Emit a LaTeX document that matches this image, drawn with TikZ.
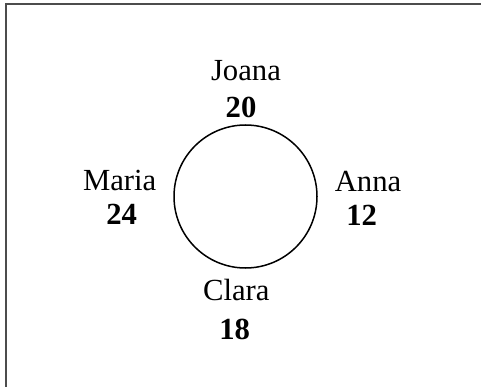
\documentclass[tikz,border=0pt]{standalone}
\usepackage{fontspec}
\setmainfont{Liberation Serif}
\tikzset{
  lbl/.style={anchor=base, inner sep=0pt, font=\fontsize{30.7}{36}\selectfont},
  num/.style={anchor=base, inner sep=0pt, font=\fontsize{30.7}{36}\selectfont\bfseries},
  frameline/.style={draw=black!70, line width=1.6pt},
  ring/.style={circle, draw=black, line width=1.5pt, minimum size=143pt, inner sep=0pt}
}
\begin{document}
\begin{tikzpicture}[x=1pt, y=-1pt]
\useasboundingbox (0,0) rectangle (481,387);
\coordinate (fbl) at (5.8,387);
\coordinate (ftl) at (5.8,4);
\coordinate (ftr) at (481,4);
\draw[frameline] (fbl) -- (ftl) -- (ftr);
\node[ring] (c) at (245.5,196.5) {};
\node[lbl] (joana) at (246,81) {Joana};
\node[num] (n20) at (241,118) {20};
\node[lbl] (maria) at (119.7,190.7) {Maria};
\node[num] (n24) at (121.7,225) {24};
\node[lbl] (anna) at (368,191.7) {Anna};
\node[num] (n12) at (361.7,225.7) {12};
\node[lbl] (clara) at (236.3,300) {Clara};
\node[num] (n18) at (234.7,339) {18};
\end{tikzpicture}
\end{document}
